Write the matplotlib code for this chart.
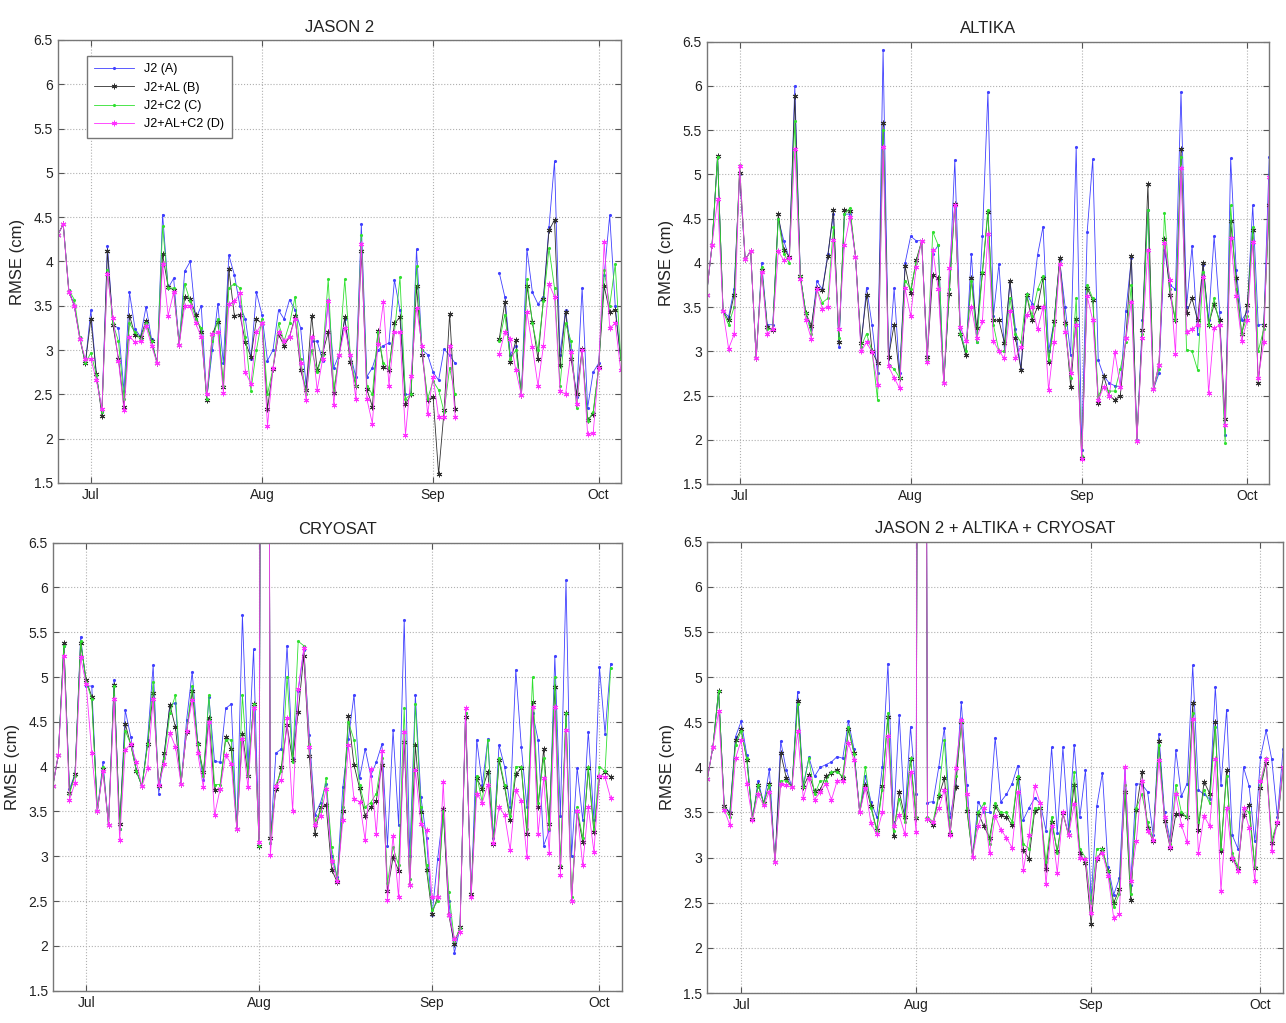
import numpy as np
import pandas as pd
import matplotlib
matplotlib.use("Agg")
import matplotlib.pyplot as plt
import matplotlib.dates as mdates
from matplotlib.ticker import FuncFormatter

plt.rcParams['font.family'] = ['Liberation Sans', 'DejaVu Sans']

N = float('nan')
dates = pd.date_range('2013-06-25', '2013-10-05', freq='D')

titles = ["JASON 2", "ALTIKA", "CRYOSAT", "JASON 2 + ALTIKA + CRYOSAT"]
labels = ["J2 (A)", "J2+AL (B)", "J2+C2 (C)", "J2+AL+C2 (D)"]

# ---------------- JASON 2 ----------------
j2_A = [4.30,4.42,3.68,3.50,3.15,2.85,3.45,2.72,2.30,4.18,3.28,3.25,2.54,3.65,3.24,3.15,3.49,3.12,2.85,4.53,
        3.70,3.81,3.06,3.89,4.00,3.35,3.50,2.45,3.00,3.52,2.85,4.07,3.85,3.50,3.35,2.90,3.65,3.40,2.88,3.00,
        3.45,3.35,3.57,3.45,3.25,2.60,3.10,3.10,2.88,3.56,2.80,2.95,3.35,2.95,2.70,4.42,2.70,2.80,3.00,3.05,
        3.08,3.79,3.45,2.50,2.50,4.14,3.00,2.95,2.75,2.66,3.01,2.94,2.85,N,N,N,N,N,N,N,
        3.87,3.60,2.95,3.05,2.49,4.14,3.65,3.52,3.60,4.39,5.13,2.95,3.45,3.00,2.47,3.70,2.35,2.75,2.85,3.85,
        4.52,3.50,2.90]
j2_B = [4.30,4.42,3.66,3.50,3.13,2.85,3.35,2.73,2.26,4.12,3.28,2.90,2.36,3.39,3.17,3.15,3.33,3.10,2.85,4.08,
        3.71,3.68,3.06,3.60,3.58,3.40,3.20,2.44,3.18,3.32,2.58,3.91,3.39,3.40,3.09,2.92,3.35,3.30,2.34,2.79,
        3.18,3.05,3.15,3.38,2.77,2.55,3.39,2.77,2.97,3.20,2.52,2.95,3.37,2.86,2.60,4.12,2.56,2.36,3.22,2.81,
        2.78,3.30,3.37,2.39,2.50,3.72,2.95,2.44,2.47,1.60,2.32,3.41,2.33,N,N,N,N,N,N,N,
        3.13,3.54,2.87,3.11,2.49,3.72,3.32,2.90,3.58,4.35,4.47,2.83,3.43,2.90,2.50,3.01,2.21,2.28,2.81,3.72,
        3.43,3.45,2.90]
j2_C = [4.30,4.42,3.68,3.57,3.15,2.85,2.97,2.72,2.30,3.90,3.30,3.10,2.45,3.30,3.20,3.12,3.30,3.10,2.85,4.40,
        3.70,3.70,3.06,3.75,3.55,3.35,3.25,2.45,3.10,3.35,2.60,3.70,3.75,3.70,3.15,2.54,3.00,3.35,2.50,2.80,
        3.30,3.10,3.30,3.60,2.90,2.50,3.00,2.75,2.95,3.80,2.55,2.95,3.80,2.95,2.60,4.30,2.60,2.50,3.20,2.85,
        2.80,3.20,3.82,2.45,2.50,3.95,3.00,2.45,2.65,2.55,2.30,2.80,2.50,N,N,N,N,N,N,N,
        3.10,3.40,2.90,3.00,2.49,3.80,3.30,3.00,3.55,4.15,3.70,2.60,3.30,3.10,2.35,3.00,2.20,2.30,2.80,3.90,
        3.50,3.97,2.90]
j2_D = [4.30,4.42,3.66,3.50,3.12,2.90,2.90,2.66,2.34,3.86,3.36,2.88,2.32,3.15,3.09,3.10,3.27,3.05,2.85,3.97,
        3.39,3.65,3.06,3.50,3.50,3.30,3.15,2.50,3.18,3.20,2.52,3.52,3.55,3.64,2.75,2.62,3.20,3.30,2.14,2.80,
        3.20,3.10,3.15,3.35,2.85,2.44,3.15,2.55,2.90,3.55,2.38,2.95,3.25,2.95,2.45,4.20,2.45,2.17,3.07,3.54,
        2.60,3.20,3.20,2.04,2.71,3.48,3.05,2.28,2.70,2.24,2.25,3.05,2.25,N,N,N,N,N,N,N,
        2.96,3.20,3.13,2.77,2.49,3.43,3.03,2.60,3.05,3.75,3.60,2.54,2.50,2.98,2.39,3.00,2.05,2.06,2.80,4.22,
        3.25,3.30,2.77]

# ---------------- ALTIKA ----------------
al_A = [3.64,4.20,5.20,3.45,3.39,3.70,5.00,4.04,4.13,2.92,4.00,3.30,3.30,4.50,4.25,4.05,6.00,3.85,3.43,3.25,
        3.79,3.70,4.10,4.55,3.05,4.55,4.55,4.07,3.05,3.72,3.30,2.75,6.41,2.85,3.71,2.75,4.00,4.30,4.25,4.25,
        2.95,4.10,4.20,2.64,3.70,5.16,3.25,2.96,4.10,3.10,4.30,5.93,3.40,3.99,3.00,3.80,3.25,2.80,3.65,3.54,
        4.09,4.41,3.00,3.34,4.03,3.50,2.96,5.31,1.88,4.35,5.17,2.90,2.72,2.64,2.61,2.60,3.45,4.05,2.00,3.35,
        4.60,2.57,2.75,4.15,3.75,3.70,5.93,3.50,4.19,3.20,3.97,3.35,4.30,3.44,2.05,5.18,3.92,3.35,3.45,4.65,
        3.30,3.30,5.20]
al_B = [3.64,4.20,5.21,3.45,3.35,3.64,5.02,4.04,4.13,2.92,3.92,3.28,3.24,4.55,4.15,4.07,5.88,3.85,3.43,3.29,
        3.71,3.69,4.08,4.60,3.11,4.60,4.58,4.07,3.09,3.64,3.00,2.87,5.58,2.94,3.30,2.70,3.96,3.66,4.03,4.25,
        2.93,3.86,3.83,2.64,3.65,4.67,3.19,2.96,3.83,3.26,3.88,4.57,3.35,3.35,3.09,3.79,3.15,2.79,3.64,3.35,
        3.50,3.83,2.88,3.34,4.05,3.32,2.60,3.37,1.79,3.71,3.58,2.41,2.72,2.50,2.45,2.50,3.15,4.08,1.99,3.24,
        4.89,2.57,2.85,4.27,3.64,3.35,5.29,3.43,3.60,3.35,4.00,3.30,3.53,3.35,2.24,4.47,3.83,3.19,3.52,4.37,
        2.64,3.30,4.65]
al_C = [3.64,4.20,5.20,3.45,3.30,3.50,5.10,4.04,4.13,2.92,3.95,3.25,3.25,4.50,4.10,4.00,5.60,3.85,3.43,3.20,
        3.70,3.55,3.60,4.40,3.15,4.55,4.62,4.07,3.05,3.20,3.00,2.45,5.50,2.85,2.80,2.70,3.80,3.70,4.00,4.25,
        2.90,4.35,4.20,2.64,3.70,4.65,3.20,3.00,3.80,3.10,3.90,4.60,3.30,3.00,3.00,3.60,3.20,3.10,3.65,3.40,
        3.70,3.85,2.90,3.30,4.00,3.30,2.70,3.60,1.82,3.75,3.60,2.50,2.60,2.55,2.55,2.80,3.10,3.75,1.99,3.20,
        4.60,2.57,2.80,4.56,3.70,3.35,5.20,3.02,3.00,2.79,3.90,3.30,3.60,3.30,1.96,4.65,3.70,3.20,3.40,4.40,
        3.00,3.25,4.70]
al_D = [3.64,4.20,4.72,3.45,3.03,3.19,5.09,4.04,4.13,2.92,3.90,3.20,3.25,4.13,4.03,4.05,5.29,3.82,3.35,3.14,
        3.70,3.48,3.50,4.26,3.25,4.20,4.52,4.07,3.00,3.10,2.99,2.62,5.31,2.83,2.70,2.58,3.71,3.40,3.95,4.25,
        2.88,4.15,3.70,2.64,3.94,4.65,3.28,3.12,3.50,3.15,3.34,4.32,3.12,3.00,2.92,3.45,2.92,3.05,3.41,3.50,
        3.25,3.50,2.56,3.11,3.99,3.22,2.75,3.30,1.78,3.62,3.35,2.45,2.60,2.50,2.99,2.60,3.15,3.56,1.99,3.15,
        4.15,2.57,2.85,4.22,3.81,2.97,5.07,3.22,3.25,3.30,3.84,2.53,3.26,3.30,2.17,4.28,3.62,3.12,3.35,4.24,
        2.70,3.10,4.97]

# ---------------- CRYOSAT ----------------
c2_A = [3.78,4.13,5.35,3.75,3.92,5.45,4.90,4.90,3.50,4.05,3.35,4.97,3.30,4.63,4.33,3.95,3.78,4.30,5.13,3.70,
        4.15,4.69,4.71,3.81,4.52,5.06,4.26,3.85,4.78,4.06,4.05,4.65,4.70,3.30,5.69,4.00,5.31,3.12,25.0,3.15,
        4.15,4.20,5.35,4.10,4.85,5.30,4.35,3.46,3.60,3.81,3.00,2.77,3.77,4.31,4.80,3.87,4.20,3.90,4.05,4.25,
        3.12,4.41,3.35,5.64,3.00,4.80,3.66,3.20,2.35,2.97,3.51,2.50,1.92,2.20,4.60,2.55,4.30,3.80,4.31,3.20,
        4.24,4.00,3.55,5.08,4.22,3.55,4.60,4.30,3.12,3.29,5.23,3.45,6.08,3.00,3.99,3.40,4.39,3.40,5.11,4.37,
        5.15,N,N]
c2_B = [3.78,4.13,5.38,3.71,3.92,5.38,4.97,4.78,3.50,3.97,3.35,4.91,3.36,4.48,4.24,3.95,3.78,4.25,4.82,3.78,
        4.15,4.69,4.44,3.81,4.39,4.84,4.25,3.94,4.54,3.74,3.75,4.33,4.20,3.30,4.37,3.90,4.70,3.12,25.0,3.20,
        3.75,4.00,4.46,4.07,4.61,5.24,4.12,3.25,3.55,3.57,2.85,2.71,3.51,4.57,4.02,3.76,3.45,3.55,3.62,4.02,
        2.61,2.99,2.84,4.28,2.68,4.24,3.49,2.85,2.36,2.55,3.53,2.34,2.02,2.21,4.56,2.58,3.87,3.75,3.94,3.14,
        4.07,3.77,3.40,3.92,3.98,3.25,4.72,3.55,4.20,3.36,4.89,2.88,4.60,2.50,3.50,3.16,3.98,3.27,3.88,3.94,
        3.89,N,N]
c2_C = [3.78,4.13,5.35,3.70,3.90,5.40,4.95,4.75,3.50,4.00,3.35,4.90,3.30,4.40,4.25,3.95,3.78,4.25,4.95,3.78,
        4.10,4.60,4.80,3.81,4.40,4.90,4.25,3.90,4.80,3.80,3.80,4.30,4.30,3.30,4.80,3.90,4.70,3.12,25.0,3.15,
        3.80,3.95,5.00,4.05,5.40,5.35,4.25,3.40,3.50,3.87,3.10,2.75,3.55,4.50,4.30,3.80,3.55,3.60,3.70,4.10,
        2.70,3.10,2.90,4.65,2.75,4.70,3.55,2.90,2.40,2.50,3.50,2.60,2.05,2.20,4.60,2.55,3.90,3.60,4.30,3.15,
        4.10,3.80,3.45,4.00,4.00,3.30,5.00,3.60,4.10,3.30,5.00,2.90,4.60,2.55,3.55,3.20,4.00,3.30,4.00,3.95,
        5.10,N,N]
c2_D = [3.78,4.13,5.23,3.63,3.82,5.22,4.92,4.15,3.50,3.95,3.35,4.76,3.18,4.19,4.25,4.05,3.78,3.98,4.76,3.80,
        4.03,4.38,4.22,3.81,4.40,4.74,4.15,3.77,4.50,3.46,3.75,4.13,4.03,3.30,4.31,3.77,4.65,3.16,28.0,3.01,
        3.79,3.85,4.54,3.51,4.87,5.32,4.22,3.35,3.45,3.75,2.95,2.72,3.40,4.24,3.64,3.61,3.18,3.97,3.25,4.18,
        2.51,3.23,2.54,4.39,2.68,3.96,3.36,3.29,2.54,2.55,3.83,2.35,2.08,2.15,4.65,2.55,3.70,3.60,3.80,3.15,
        3.55,3.46,3.07,3.74,3.62,2.99,4.67,3.25,3.87,3.04,4.67,2.79,4.41,2.50,3.50,2.90,3.55,3.05,3.90,3.88,
        3.65,N,N]

# ---------------- JASON 2 + ALTIKA + CRYOSAT ----------------
all_A = [3.87,4.23,4.85,3.57,3.50,4.34,4.51,4.14,3.43,3.85,3.60,3.98,2.95,4.29,3.97,3.78,4.84,3.80,4.11,3.90,
         4.00,4.03,4.06,4.12,4.10,4.51,4.20,3.50,3.90,3.62,3.45,4.00,5.15,3.40,4.58,3.45,4.45,3.70,25.0,3.61,
         3.62,4.00,4.44,3.45,3.79,4.72,3.80,3.01,3.62,3.50,3.50,4.33,3.62,3.70,3.82,4.02,3.42,3.55,3.66,3.60,
         3.30,4.22,3.27,4.22,3.30,4.25,3.45,3.97,2.53,3.57,3.94,2.90,2.59,2.77,4.00,2.70,3.82,3.81,3.73,3.25,
         4.37,3.50,3.20,4.19,3.68,3.82,5.13,3.75,3.70,3.65,4.89,3.80,4.64,3.25,3.10,4.00,3.79,3.18,4.11,4.41,
         4.09,3.45,4.20]
all_B = [3.87,4.23,4.85,3.57,3.49,4.30,4.42,4.08,3.43,3.81,3.60,3.82,2.95,4.16,3.88,3.78,4.73,3.78,3.92,3.74,
         3.75,3.90,3.94,3.97,3.88,4.42,4.16,3.50,3.81,3.57,3.31,3.79,4.56,3.24,3.73,3.45,4.09,3.44,25.0,3.43,
         3.36,3.68,3.88,3.26,3.78,4.50,3.52,3.01,3.49,3.35,3.22,3.57,3.47,3.45,3.36,3.88,3.08,2.99,3.52,3.55,
         2.87,3.40,3.07,3.49,3.25,3.81,3.05,2.94,2.26,2.98,3.09,2.85,2.50,2.65,3.73,2.53,3.53,3.95,3.33,3.18,
         4.29,3.41,3.11,3.48,3.48,3.45,4.71,3.31,3.84,3.71,4.50,3.07,3.97,2.99,2.89,3.47,3.58,2.89,3.77,4.05,
         3.16,3.38,4.00]
all_C = [3.87,4.23,4.85,3.55,3.45,4.25,4.40,4.10,3.43,3.80,3.60,3.80,2.95,3.85,3.85,3.78,4.70,3.78,4.10,3.70,
         3.85,3.85,3.95,3.95,3.90,4.45,4.15,3.50,4.00,3.55,3.30,3.75,4.60,3.30,3.65,3.40,4.10,3.45,25.0,3.45,
         3.40,3.70,4.30,3.30,3.90,4.50,3.55,3.01,3.50,3.60,3.15,3.60,3.50,3.50,3.40,3.90,3.15,3.10,3.55,3.55,
         2.95,3.45,3.05,3.50,3.25,3.95,3.10,3.00,2.50,3.10,3.10,2.85,2.45,2.60,3.80,2.60,3.55,3.70,3.40,3.20,
         4.25,3.45,3.15,3.80,3.50,3.45,4.60,3.40,3.75,3.60,4.45,3.10,3.90,3.05,2.90,3.55,3.50,2.90,3.80,4.10,
         3.20,3.40,3.95]
all_D = [3.87,4.23,4.62,3.53,3.36,4.10,4.30,3.82,3.42,3.70,3.58,3.73,2.95,3.82,3.80,3.78,4.40,3.66,3.88,3.64,
         3.73,3.82,3.64,3.85,3.85,4.27,4.08,3.50,3.77,3.38,3.26,3.50,4.35,3.35,3.47,3.26,3.95,3.28,28.0,3.43,
         3.40,3.55,3.75,3.25,3.99,4.53,3.70,3.01,3.35,3.55,3.05,3.46,3.31,3.22,3.11,3.73,2.86,3.25,3.79,3.60,
         2.71,3.35,2.83,3.50,3.25,3.59,3.00,2.98,2.39,3.00,3.05,2.80,2.33,2.37,4.00,2.74,3.18,3.85,3.30,3.20,
         4.08,3.45,3.12,3.70,3.36,3.17,4.54,3.05,3.46,3.35,4.09,2.63,3.55,3.00,2.85,3.55,3.33,2.74,3.85,4.09,
         3.07,3.40,4.00]

panels = [
    (j2_A, j2_B, j2_C, j2_D),
    (al_A, al_B, al_C, al_D),
    (c2_A, c2_B, c2_C, c2_D),
    (all_A, all_B, all_C, all_D),
]

# axes positions in figure fractions [left, bottom, width, height]
positions = [
    [0.0449, 0.5279, 0.4378, 0.4330],
    [0.5494, 0.5269, 0.4376, 0.4324],
    [0.0410, 0.0316, 0.4425, 0.4379],
    [0.5500, 0.0293, 0.4477, 0.4412],
]

asterisk = (6, 2, 0)
styles = [
    dict(color='#4040ff', marker='.', markersize=2.5, lw=0.6),
    dict(color='#303030', marker=asterisk, markersize=4, lw=0.6, markeredgewidth=0.7),
    dict(color='#30e030', marker='.', markersize=2.5, lw=0.6),
    dict(color='#ff30ff', marker=asterisk, markersize=4, lw=0.6, markeredgewidth=0.7),
]

fig = plt.figure(figsize=(12.86, 10.23), dpi=100)

for i, (title, series, pos) in enumerate(zip(titles, panels, positions)):
    ax = fig.add_axes(pos)
    for vals, st, lab in zip(series, styles, labels):
        ax.plot(dates, np.array(vals, dtype=float), label=lab, **st)
    ax.set_xlim(dates[0], dates[-1])
    ax.set_ylim(1.5, 6.5)
    ax.set_yticks(np.arange(1.5, 6.51, 0.5))
    ax.yaxis.set_major_formatter(FuncFormatter(lambda v, p: '%g' % v))
    ax.xaxis.set_major_locator(mdates.MonthLocator())
    ax.xaxis.set_major_formatter(mdates.DateFormatter('%b'))
    ax.grid(True, linestyle=':', color='#b0b0b0', linewidth=0.8)
    ax.tick_params(direction='in', top=True, right=True, labelsize=10, length=4,
                   color='#555555', labelcolor='#222222')
    for sp in ax.spines.values():
        sp.set_color('#777777')
        sp.set_linewidth(1.0)
    ax.set_ylabel('RMSE (cm)', fontsize=12, color='#222222', labelpad=6)
    ax.set_title(title, fontsize=12, color='#222222', pad=6)
    if i == 0:
        leg = ax.legend(loc='upper left', bbox_to_anchor=(0.04, 0.978), fontsize=9,
                        handlelength=3.2, borderpad=0.6, labelspacing=0.5,
                        fancybox=False, framealpha=1.0, edgecolor='#777777')

fig.savefig('out.png', dpi=100)
